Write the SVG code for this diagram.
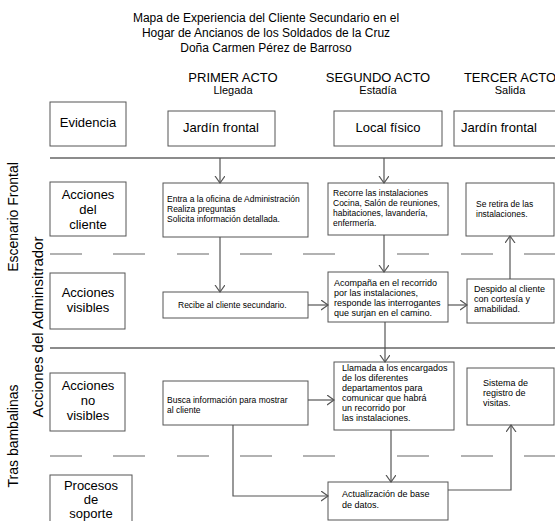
<svg xmlns="http://www.w3.org/2000/svg" width="555" height="521" viewBox="0 0 555 521">
<style>
text{font-family:"Liberation Sans",Arial,sans-serif;fill:#000}
.t{font-size:12px;text-anchor:middle}
.act{font-size:13px;text-anchor:middle}
.sub{font-size:11px;text-anchor:middle}
.lbl{font-size:13px;text-anchor:middle}
.side{font-size:14px;text-anchor:middle}
.sm{font-size:8.5px}
.md{font-size:9px}
.box{fill:#fff;stroke:#555;stroke-width:1}
.sep{stroke:#666;stroke-width:1.5;fill:none}
.dash{stroke:#666;stroke-width:1.2;fill:none}
.con{stroke:#555;stroke-width:1.2;fill:none;marker-end:url(#ah)}
</style>
<defs>
<marker id="ah" markerUnits="userSpaceOnUse" markerWidth="12" markerHeight="12" refX="7" refY="5" orient="auto">
<path d="M0,0 L7,5 L0,10" fill="none" stroke="#555" stroke-width="1.2"/>
</marker>
</defs>
<rect width="555" height="521" fill="#fff"/>
<g id="title">
<text class="t" x="266" y="22">Mapa de Experiencia del Cliente Secundario en el</text>
<text class="t" x="266" y="37">Hogar de Ancianos de los Soldados de la Cruz</text>
<text class="t" x="266" y="52">Doña Carmen Pérez de Barroso</text>
</g>
<g id="acts">
<text class="act" x="233" y="82">PRIMER ACTO</text>
<text class="sub" x="233" y="94">Llegada</text>
<text class="act" x="378" y="82">SEGUNDO ACTO</text>
<text class="sub" x="378" y="94">Estadía</text>
<text class="act" x="510" y="82">TERCER ACTO</text>
<text class="sub" x="510" y="94">Salida</text>
</g>
<g id="side-labels">
<text class="side" transform="translate(18,217) rotate(-90)">Escenario Frontal</text>
<text class="side" style="font-size:15px" transform="translate(43,327) rotate(-90)">Acciones del Adminsitrador</text>
<text class="side" transform="translate(18,436) rotate(-90)">Tras bambalinas</text>
</g>
<g id="lines">
<line class="sep" x1="50" y1="158" x2="555" y2="158"/>
<line class="sep" x1="50" y1="348" x2="555" y2="348"/>
<path class="dash" d="M50,254H82M113,254H145M177,254H209M240,254H272M303,254H335M397,254H429M461,254H493M524,254H555"/>
<path class="dash" d="M50,456H82M113,456H145M177,456H209M240,456H272M303,456H335M397,456H429M461,456H493M524,456H555"/>
</g>
<g id="lbl-evidencia">
<rect class="box" x="50" y="102" width="76" height="44"/>
<text class="lbl" x="88" y="127">Evidencia</text>
</g>
<g id="lbl-acciones-cliente">
<rect class="box" x="50" y="182" width="76" height="54"/>
<text class="lbl" x="88" y="199">Acciones</text>
<text class="lbl" x="88" y="214">del</text>
<text class="lbl" x="88" y="229">cliente</text>
</g>
<g id="lbl-acciones-visibles">
<rect class="box" x="50" y="273" width="75" height="56"/>
<text class="lbl" x="88" y="297">Acciones</text>
<text class="lbl" x="88" y="312">visibles</text>
</g>
<g id="lbl-acciones-no-visibles">
<rect class="box" x="50" y="373" width="75" height="58"/>
<text class="lbl" x="88" y="390">Acciones</text>
<text class="lbl" x="88" y="405">no</text>
<text class="lbl" x="88" y="420">visibles</text>
</g>
<g id="lbl-procesos">
<rect class="box" x="50" y="475" width="82" height="50"/>
<text class="lbl" x="91" y="490">Procesos</text>
<text class="lbl" x="91" y="504">de</text>
<text class="lbl" x="91" y="518">soporte</text>
</g>
<g id="ev1">
<rect class="box" x="168" y="111" width="107" height="35"/>
<text class="lbl" x="183" y="132" style="text-anchor:start">Jardín frontal</text>
</g>
<g id="ev2">
<rect class="box" x="334" y="111" width="108" height="35"/>
<text class="lbl" x="388" y="132">Local físico</text>
</g>
<g id="ev3">
<rect class="box" x="454" y="111" width="105" height="35"/>
<text class="lbl" x="461" y="132" style="text-anchor:start">Jardín frontal</text>
</g>
<g id="a1">
<rect class="box" x="163" y="183" width="145" height="54"/>
<text class="sm" x="167" y="202">Entra a la oficina de Administración</text>
<text class="sm" x="167" y="212">Realiza preguntas</text>
<text class="sm" x="167" y="222">Solicita información detallada.</text>
</g>
<g id="a2">
<rect class="box" x="328" y="183" width="120" height="52"/>
<text class="sm" x="333" y="196">Recorre las instalaciones</text>
<text class="sm" x="333" y="206">Cocina, Salón de reuniones,</text>
<text class="sm" x="333" y="216">habitaciones, lavandería,</text>
<text class="sm" x="333" y="226">enfermería.</text>
</g>
<g id="a3">
<rect class="box" x="466" y="183" width="88" height="53"/>
<text class="sm" x="476" y="207">Se retira de las</text>
<text class="sm" x="476" y="217">instalaciones.</text>
</g>
<g id="b1">
<rect class="box" x="163" y="292" width="145" height="26"/>
<text class="sm" x="178" y="308">Recibe al cliente secundario.</text>
</g>
<g id="b2">
<rect class="box" x="328" y="272" width="120" height="50"/>
<text class="md" x="334" y="286">Acompaña en el recorrido</text>
<text class="md" x="334" y="296">por las instalaciones,</text>
<text class="md" x="334" y="306">responde las interrogantes</text>
<text class="md" x="334" y="316">que surjan en el camino.</text>
</g>
<g id="b3">
<rect class="box" x="467" y="279" width="87" height="44"/>
<text class="md" x="474" y="292">Despido al cliente</text>
<text class="md" x="474" y="302">con cortesía y</text>
<text class="md" x="474" y="312">amabilidad.</text>
</g>
<g id="c1">
<rect class="box" x="163" y="381" width="145" height="44"/>
<text class="sm" x="167" y="403">Busca información para mostrar</text>
<text class="sm" x="167" y="413">al cliente</text>
</g>
<g id="c2">
<rect class="box" x="334" y="362" width="120" height="68"/>
<text class="md" x="342" y="371">Llamada a los encargados</text>
<text class="md" x="342" y="381">de los diferentes</text>
<text class="md" x="342" y="391">departamentos para</text>
<text class="md" x="342" y="401">comunicar que habrá</text>
<text class="md" x="342" y="411">un recorrido por</text>
<text class="md" x="342" y="421">las instalaciones.</text>
</g>
<g id="c3">
<rect class="box" x="467" y="368" width="87" height="57"/>
<text class="md" x="483" y="386">Sistema de</text>
<text class="md" x="483" y="396">registro de</text>
<text class="md" x="483" y="406">visitas.</text>
</g>
<g id="d1">
<rect class="box" x="328" y="482" width="120" height="38"/>
<text class="md" x="342" y="497">Actualización de base</text>
<text class="md" x="342" y="508">de datos.</text>
</g>
<g id="connectors">
<line class="con" x1="220" y1="158" x2="220" y2="183"/>
<line class="con" x1="384" y1="158" x2="384" y2="183"/>
<line class="con" x1="220" y1="237" x2="220" y2="292"/>
<line class="con" x1="384" y1="235" x2="384" y2="272"/>
<line class="con" x1="308" y1="305" x2="328" y2="305"/>
<line class="con" x1="448" y1="305" x2="467" y2="305"/>
<line class="con" x1="510" y1="279" x2="510" y2="236"/>
<line class="con" x1="385" y1="322" x2="385" y2="362"/>
<line class="con" x1="308" y1="400" x2="334" y2="400"/>
<path class="con" d="M233,425 V496 H328"/>
<line class="con" x1="391" y1="430" x2="391" y2="482"/>
<path class="con" d="M448,490 H511 V425"/>
</g>
</svg>
